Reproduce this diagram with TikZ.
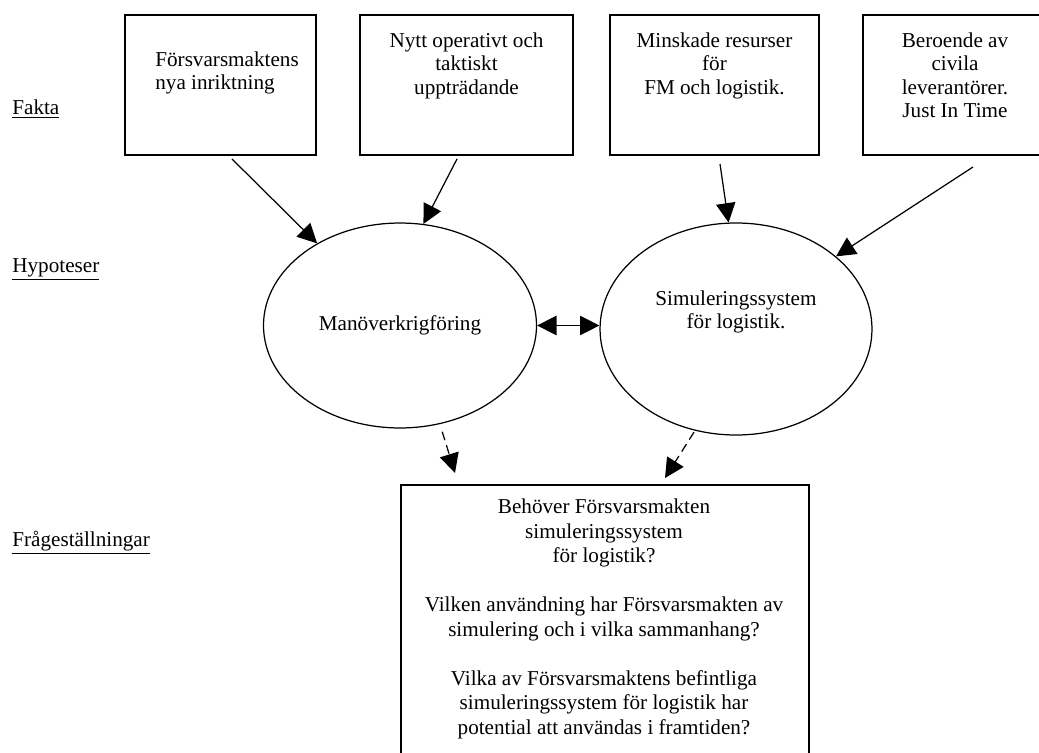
\documentclass[tikz,border=0pt]{standalone}
\usepackage{fontspec}
\setmainfont{Liberation Serif}
\usepackage{tikz}
\usetikzlibrary{positioning,calc,shapes.geometric,arrows.meta}

\tikzset{
	faktabox/.style={draw=black, line width=1.1pt, inner sep=0pt, minimum height=79.4pt},
	boxtext/.style={inner sep=0pt, align=center, anchor=north, font=\fontsize{12}{13.2}\selectfont},
	hypotes/.style={draw=black, line width=0.7pt, ellipse, inner sep=0pt, font=\fontsize{12}{13.2}\selectfont},
	rubrik/.style={inner sep=0pt, anchor=base west, font=\fontsize{12}{13.2}\selectfont},
	pil/.style={line width=0.7pt, -{Triangle[length=11pt,width=11pt]}},
	streckpil/.style={pil, dash pattern=on 5pt off 3pt},
}

\begin{document}
\begin{tikzpicture}[x=0.567pt, y=-0.567pt]
	\useasboundingbox (0,0) rectangle (1039,752);
	
	\node[rubrik] (fakta) at (12,115) {\underline{Fakta}};
	\node[rubrik] (hypoteser) at (12,272) {\underline{Hypoteser}};
	\node[rubrik] (fragor) at (12,546) {\underline{Frågeställningar}};
	
	\node[faktabox, minimum width=108.3pt] (f1) at (220.5,85) {};
	\node[boxtext, anchor=north west, align=left] (f1text) at (155,51) {Försvarsmaktens\\nya inriktning};
	
	\node[faktabox, minimum width=120.8pt] (f2) at (466.5,85) {};
	\node[boxtext] (f2text) at (466.5,32.5) {Nytt operativt och\\taktiskt\\uppträdande};
	
	\node[faktabox, minimum width=118.5pt] (f3) at (714.5,85) {};
	\node[boxtext] (f3text) at (714.5,32.5) {Minskade resurser\\för\\FM och logistik.};
	
	\node[faktabox, minimum width=104.3pt] (f4) at (955,85) {};
	\node[boxtext] (f4text) at (955,32.5) {Beroende av\\civila\\leverantörer.\\Just In Time};
	
	\node[hypotes, minimum width=154.8pt, minimum height=116.2pt] (h1) at (400,325.5) {Manöverkrigföring};
	\node[hypotes, minimum width=154.2pt, minimum height=120.2pt] (h2) at (736,329) {};
	\node[boxtext] (h2text) at (736,290.5) {Simuleringssystem\\för logistik.};
	
	\node[draw=black, line width=1.1pt, inner sep=0pt, anchor=north west,
		minimum width=231.3pt, minimum height=170pt] (q) at (400,484) {};
	\node[boxtext, font=\fontsize{12}{13.9}\selectfont] (qtext) at (604,498.5) {
		Behöver Försvarsmakten\\
		simuleringssystem\\
		för logistik?\\[13.9pt]
		Vilken användning har Försvarsmakten av\\
		simulering och i vilka sammanhang?\\[13.9pt]
		Vilka av Försvarsmaktens befintliga\\
		simuleringssystem för logistik har\\
		potential att användas i framtiden?
	};
	
	\draw[pil] ([shift={(11.5,3)}]f1.south) -- (h1);
	\draw[pil] ([shift={(-9.5,3)}]f2.south) -- (h1.77);
	\draw[pil] ([shift={(5.5,8)}]f3.south) -- (h2.94);
	\draw[pil] ([shift={(18,11)}]f4.south) -- (h2.36);
	\draw[pil, {Triangle[length=11pt,width=11pt]}-{Triangle[length=11pt,width=11pt]}] (h1.east) -- (h1.east -| h2.west);
	\draw[streckpil, shorten <=4.5pt] (h1.292) -- ([shift={(55,-11)}]q.north west);
	\draw[streckpil, shorten <=1pt] (h2.248) -- ([shift={(265,-6)}]q.north west);
\end{tikzpicture}
\end{document}
